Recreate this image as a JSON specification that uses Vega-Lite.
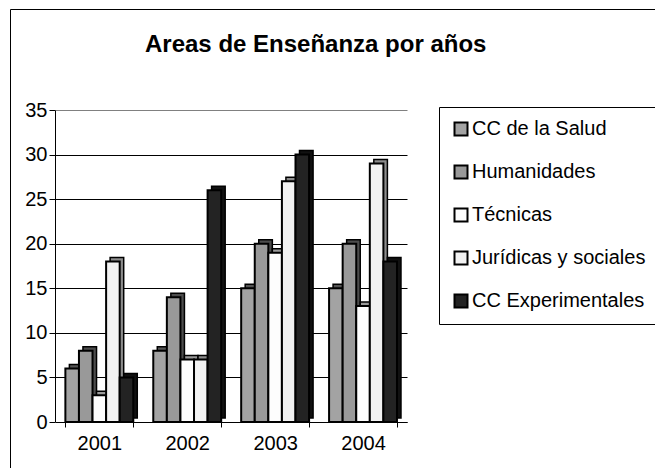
{
  "$schema": "https://vega.github.io/schema/vega-lite/v6.json",
  "width": 645,
  "height": 459,
  "autosize": {"type": "none"},
  "padding": {"left": 10, "top": 9, "right": 0, "bottom": 0},
  "background": "white",
  "title": {
    "text": "Areas de Enseñanza por años",
    "anchor": "start",
    "frame": "group",
    "dx": 135,
    "offset": -48,
    "font": "Liberation Sans",
    "fontSize": 24,
    "fontWeight": "bold",
    "color": "black"
  },
  "data": {
    "values": [
      {"year": "2001", "area": "CC de la Salud", "value": 6},
      {"year": "2001", "area": "Humanidades", "value": 8},
      {"year": "2001", "area": "Técnicas", "value": 3},
      {"year": "2001", "area": "Jurídicas y sociales", "value": 18},
      {"year": "2001", "area": "CC Experimentales", "value": 5},
      {"year": "2002", "area": "CC de la Salud", "value": 8},
      {"year": "2002", "area": "Humanidades", "value": 14},
      {"year": "2002", "area": "Técnicas", "value": 7},
      {"year": "2002", "area": "Jurídicas y sociales", "value": 7},
      {"year": "2002", "area": "CC Experimentales", "value": 26},
      {"year": "2003", "area": "CC de la Salud", "value": 15},
      {"year": "2003", "area": "Humanidades", "value": 20},
      {"year": "2003", "area": "Técnicas", "value": 19},
      {"year": "2003", "area": "Jurídicas y sociales", "value": 27},
      {"year": "2003", "area": "CC Experimentales", "value": 30},
      {"year": "2004", "area": "CC de la Salud", "value": 15},
      {"year": "2004", "area": "Humanidades", "value": 20},
      {"year": "2004", "area": "Técnicas", "value": 13},
      {"year": "2004", "area": "Jurídicas y sociales", "value": 29},
      {"year": "2004", "area": "CC Experimentales", "value": 18}
    ]
  },
  "encoding": {
    "x": {
      "field": "year",
      "type": "nominal",
      "scale": {"range": [45.4, 397], "paddingInner": 0.227, "paddingOuter": 0.1135},
      "axis": {
        "title": null,
        "offset": -46,
        "labelAngle": 0,
        "tickBand": "extent",
        "tickSize": 5,
        "tickColor": "black",
        "domainColor": "black",
        "labelFontSize": 20,
        "labelFont": "Liberation Sans",
        "labelColor": "black",
        "labelPadding": 6,
        "grid": false
      }
    },
    "y": {
      "field": "value",
      "type": "quantitative",
      "scale": {"domain": [0, 35], "range": [413, 101], "nice": false, "zero": true},
      "axis": {
        "title": null,
        "offset": -45,
        "values": [0, 5, 10, 15, 20, 25, 30, 35],
        "grid": true,
        "gridColor": {"condition": {"test": "datum.value === 35", "value": "#808080"}, "value": "black"},
        "gridOpacity": 1,
        "gridWidth": 1,
        "tickSize": 6,
        "tickColor": "black",
        "domainColor": "black",
        "labelFontSize": 20,
        "labelFont": "Liberation Sans",
        "labelColor": "black",
        "labelPadding": 2
      }
    }
  },
  "layer": [
    {
      "mark": {"type": "bar", "stroke": "black", "strokeWidth": 1.5, "yOffset": -4, "y2Offset": -4},
      "encoding": {
        "xOffset": {
          "field": "area",
          "type": "nominal",
          "sort": ["CC de la Salud", "Humanidades", "Técnicas", "Jurídicas y sociales", "CC Experimentales"],
          "scale": {"range": [4, 71.9], "paddingInner": 0, "paddingOuter": 0}
        },
        "color": {
          "field": "area",
          "type": "nominal",
          "scale": {
            "domain": ["CC de la Salud", "Humanidades", "Técnicas", "Jurídicas y sociales", "CC Experimentales"],
            "range": ["#555555", "#4d4d4d", "#9a9a9a", "#8c8c8c", "#111111"]
          },
          "legend": null
        }
      }
    },
    {
      "mark": {"type": "bar", "stroke": "black", "strokeWidth": 2},
      "encoding": {
        "xOffset": {
          "field": "area",
          "type": "nominal",
          "sort": ["CC de la Salud", "Humanidades", "Técnicas", "Jurídicas y sociales", "CC Experimentales"],
          "scale": {"range": [0, 67.9], "paddingInner": 0, "paddingOuter": 0}
        },
        "color": {
          "field": "area",
          "type": "nominal",
          "scale": {
            "domain": ["CC de la Salud", "Humanidades", "Técnicas", "Jurídicas y sociales", "CC Experimentales"],
            "range": ["#a3a3a3", "#999999", "#fdfdfd", "#f2f2f2", "#232323"]
          },
          "legend": {
            "orient": "none",
            "legendX": 429,
            "legendY": 98,
            "title": null,
            "symbolType": "square",
            "symbolSize": 169,
            "symbolStrokeColor": "black",
            "symbolStrokeWidth": 2,
            "symbolOpacity": 1,
            "labelFontSize": 20,
            "labelFont": "Liberation Sans",
            "labelColor": "black",
            "labelOffset": 1,
            "labelLimit": 300,
            "rowPadding": 21,
            "padding": 12,
            "strokeColor": "black",
            "fillColor": "white"
          }
        }
      }
    }
  ],
  "resolve": {"scale": {"xOffset": "independent", "color": "independent"}},
  "config": {
    "view": {"stroke": "black", "strokeWidth": 1, "fill": null},
    "font": "Liberation Sans"
  }
}
